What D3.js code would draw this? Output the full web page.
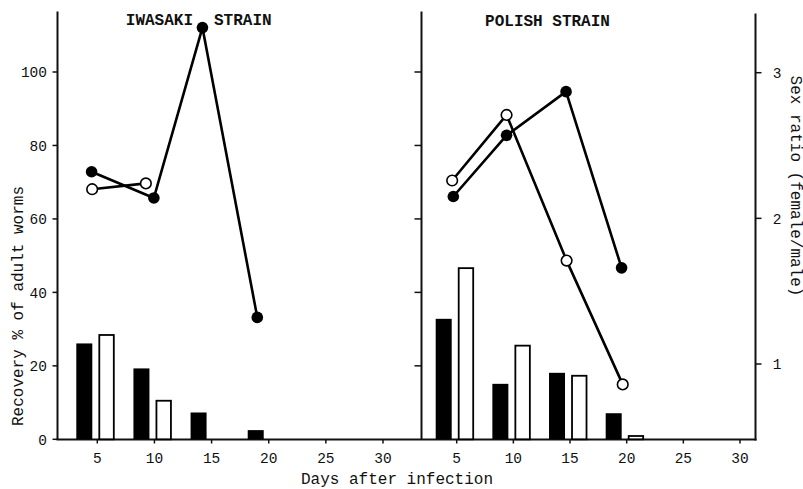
<!DOCTYPE html>
<html>
<head>
<meta charset="utf-8">
<script src="https://cdn.jsdelivr.net/npm/d3@7"></script>
<style>
  html, body { margin: 0; padding: 0; background: #fff; }
  svg { display: block; }
  text { font-family: "Liberation Mono", "DejaVu Sans Mono", monospace; fill: #111; }
</style>
</head>
<body>
<svg id="chart" width="803" height="489"></svg>
<script>
// ---------- data ----------
const panels = [["IWASAKI", "STRAIN"], ["POLISH STRAIN"]];
const barDays = [5, 10, 15, 20];
// Recovery % of adult worms (bars)
const iwasakiFilledBars = [26.1, 19.3, 7.3, 2.5];
const iwasakiOpenBars   = [28.4, 10.5, 0, 0];
const polishFilledBars  = [32.8, 15.1, 18.1, 7.1];
const polishOpenBars    = [46.6, 25.5, 17.3, 0.9];
// Sex ratio (lines): day, ratio
const iwasakiFilledDays  = [4.5, 9.95, 14.2, 19.0];
const iwasakiFilledRatio = [2.32, 2.14, 3.31, 1.32];
const iwasakiOpenDays    = [4.55, 9.25];
const iwasakiOpenRatio   = [2.20, 2.24];
const polishFilledDays   = [4.7, 9.4, 14.65, 19.55];
const polishFilledRatio  = [2.15, 2.57, 2.87, 1.66];
const polishOpenDays     = [4.6, 9.4, 14.7, 19.65];
const polishOpenRatio    = [2.26, 2.71, 1.71, 0.86];
const dayTicks = [5, 10, 15, 20, 25, 30];
const recoveryTicks = [0, 20, 40, 60, 80, 100];
const ratioTicks = [1, 2, 3];

// ---------- scales ----------
const svg = d3.select("#chart");
const xL = d3.scaleLinear().domain([5, 30]).range([97.3, 383]);
const xR = d3.scaleLinear().domain([5, 30]).range([456.7, 740]);
const yRec = d3.scaleLinear().domain([0, 100]).range([439.3, 72]);
const yRat = d3.scaleLinear().domain([1, 3]).range([364, 72.7]);

const leftX = 57.5, divX = 421.5, rightX = 755.5;
const baseY = Math.round(yRec(0)) + 0.5;
const topY = yRec(116.5);

// ---------- frame ----------
const frame = svg.append("g").attr("stroke", "#111").attr("stroke-width", 2).attr("fill", "none");
frame.append("line").attr("x1", leftX).attr("x2", leftX).attr("y1", topY).attr("y2", baseY);
frame.append("line").attr("x1", divX).attr("x2", divX).attr("y1", topY).attr("y2", baseY);
frame.append("line").attr("x1", rightX).attr("x2", rightX).attr("y1", topY + 2).attr("y2", baseY + 1);
frame.append("line").attr("x1", leftX - 1).attr("x2", rightX + 1).attr("y1", baseY).attr("y2", baseY);

// axis ticks + labels
const ticks = svg.append("g").attr("stroke", "#111").attr("stroke-width", 1.5);
recoveryTicks.forEach(v => {
  ticks.append("line").attr("x1", leftX - 5).attr("x2", leftX).attr("y1", yRec(v)).attr("y2", yRec(v));
  if (v > 0) ticks.append("line").attr("x1", divX - 7).attr("x2", divX).attr("y1", yRec(v)).attr("y2", yRec(v));
  svg.append("text").attr("x", 47).attr("y", yRec(v)).attr("dy", "0.36em")
    .attr("text-anchor", "end").attr("font-size", 14.5).text(v);
});
ratioTicks.forEach(v => {
  ticks.append("line").attr("x1", rightX).attr("x2", rightX + 6).attr("y1", yRat(v)).attr("y2", yRat(v));
  svg.append("text").attr("x", 777).attr("y", yRat(v)).attr("dy", "0.36em")
    .attr("text-anchor", "middle").attr("font-size", 14.5).text(v);
});
[xL, xR].forEach(x => {
  dayTicks.forEach(d => {
    ticks.append("line").attr("x1", x(d)).attr("x2", x(d)).attr("y1", baseY).attr("y2", baseY + 4);
    svg.append("text").attr("x", x(d)).attr("y", 463).attr("text-anchor", "middle")
      .attr("font-size", 14.5).text(d);
  });
});

// ---------- bars ----------
function drawBars(x, filled, open) {
  const g = svg.append("g");
  g.selectAll("rect.f").data(barDays).join("rect")
    .attr("x", (d) => x(d) - 21).attr("width", 16)
    .attr("y", (d, i) => yRec(filled[i])).attr("height", (d, i) => yRec(0) - yRec(filled[i]))
    .attr("fill", "#000");
  g.selectAll("rect.o").data(barDays.filter((d, i) => open[i] > 0)).join("rect")
    .attr("x", (d) => x(d) + 2).attr("width", 14.5)
    .attr("y", (d) => yRec(open[barDays.indexOf(d)]))
    .attr("height", (d) => yRec(0) - yRec(open[barDays.indexOf(d)]))
    .attr("fill", "#fff").attr("stroke", "#000").attr("stroke-width", 1.8);
}
drawBars(xL, iwasakiFilledBars, iwasakiOpenBars);
drawBars(xR, polishFilledBars, polishOpenBars);

// ---------- lines ----------
function drawSeries(x, days, ratios) {
  const pts = days.map((d, i) => [x(d), yRat(ratios[i])]);
  svg.append("path").attr("d", d3.line()(pts))
    .attr("fill", "none").attr("stroke", "#000").attr("stroke-width", 2.6)
    .attr("stroke-linejoin", "round");
  return pts;
}
const markers = [];
markers.push([drawSeries(xL, iwasakiFilledDays, iwasakiFilledRatio), true]);
markers.push([drawSeries(xL, iwasakiOpenDays, iwasakiOpenRatio), false]);
markers.push([drawSeries(xR, polishFilledDays, polishFilledRatio), true]);
markers.push([drawSeries(xR, polishOpenDays, polishOpenRatio), false]);
markers.forEach(([pts, filled]) => {
  svg.append("g").selectAll("circle").data(pts).join("circle")
    .attr("cx", p => p[0]).attr("cy", p => p[1])
    .attr("r", filled ? 5.8 : 5.3)
    .attr("fill", filled ? "#000" : "#fff")
    .attr("stroke", "#000").attr("stroke-width", filled ? 0 : 1.6);
});

// ---------- titles & axis labels ----------
svg.append("text").attr("x", 193).attr("y", 25).attr("text-anchor", "end")
  .attr("font-size", 16).attr("font-weight", "bold").text(panels[0][0]);
svg.append("text").attr("x", 214).attr("y", 25).attr("text-anchor", "start")
  .attr("font-size", 16).attr("font-weight", "bold").text(panels[0][1]);
svg.append("text").attr("x", 547.5).attr("y", 26).attr("text-anchor", "middle")
  .attr("font-size", 16).attr("font-weight", "bold").text(panels[1][0]);
svg.append("text").attr("x", 397).attr("y", 484).attr("text-anchor", "middle")
  .attr("font-size", 16).text("Days after infection");
svg.append("text").attr("transform", "translate(17,306) rotate(-90)").attr("dy", "0.36em")
  .attr("text-anchor", "middle").attr("font-size", 16).text("Recovery % of adult worms");
svg.append("text").attr("transform", "translate(797,186) rotate(90)").attr("dy", "0.36em")
  .attr("text-anchor", "middle").attr("font-size", 16).text("Sex ratio (female/male)");
</script>
</body>
</html>
